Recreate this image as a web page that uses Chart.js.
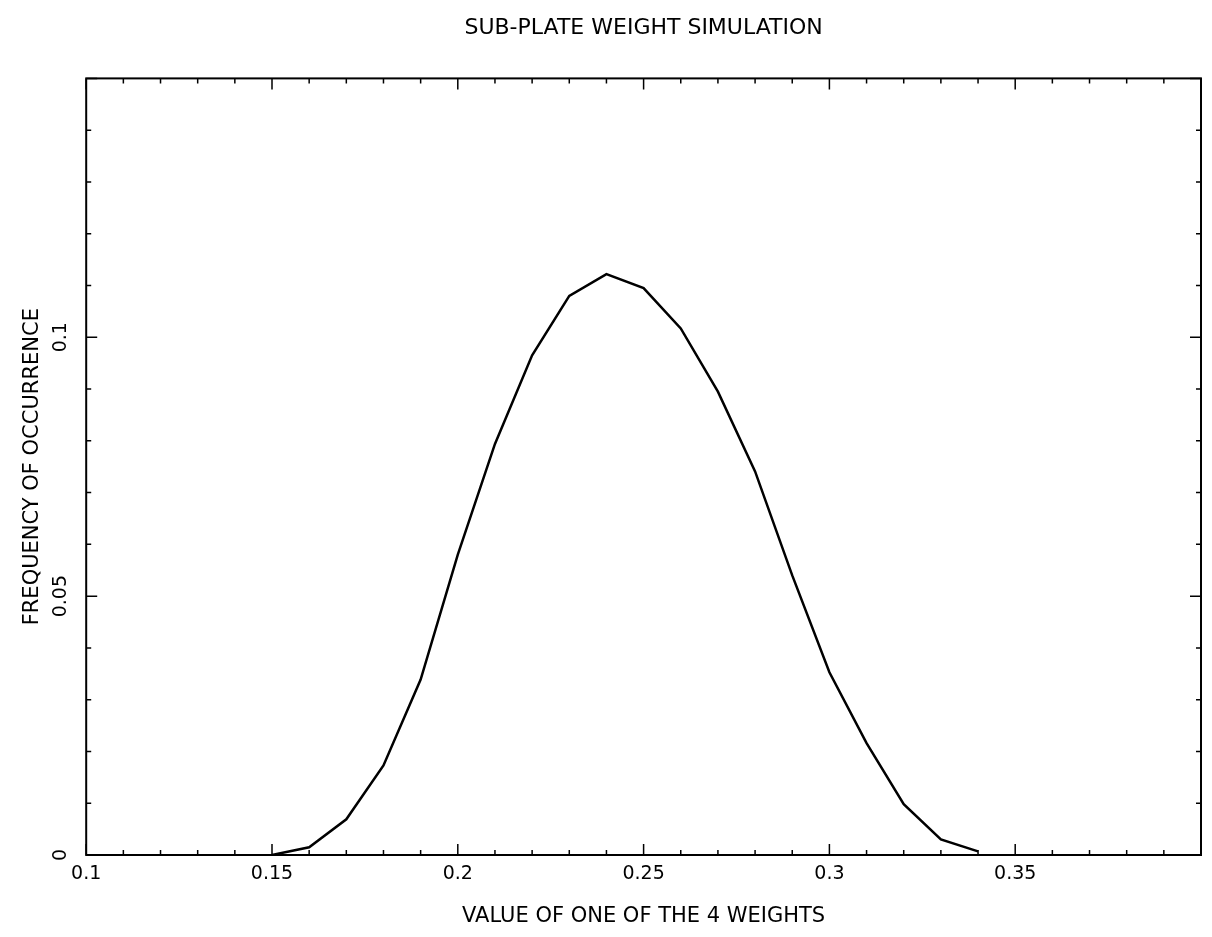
<!DOCTYPE html>
<html>
<head>
<meta charset="utf-8">
<title>Sub-plate weight simulation</title>
<script src="https://cdn.jsdelivr.net/npm/chart.js@4.4.1/dist/chart.umd.min.js"></script>
<style>
  body { margin: 0; background: #fff; }
  .main { width: 1212px; height: 937px; position: relative; }
</style>
</head>
<body>
<div class="main"><canvas id="myChart"></canvas></div>
<script>
// values
const weights = [0.15, 0.16, 0.17, 0.18, 0.19, 0.2, 0.21, 0.22, 0.23, 0.24,
  0.25, 0.26, 0.27, 0.28, 0.29, 0.3, 0.31, 0.32, 0.33, 0.34];
const frequency = [0, 0.0015, 0.0069, 0.0173, 0.0339, 0.058, 0.0794, 0.0965, 0.108, 0.1122,
  0.1095, 0.1017, 0.0895, 0.0741, 0.054, 0.0353, 0.0216, 0.0098, 0.003, 0.0007];
const xTickLabels = ['0.1', '0.15', '0.2', '0.25', '0.3', '0.35'];
const yTickLabels = ['0', '0.05', '0.1'];

const font = 'DejaVu Sans';

// ticks pointing into the box on all four sides, plus the rotated y labels
const framePlugin = {
  id: 'frame',
  afterDraw(chart) {
    const { ctx, chartArea: a, scales } = chart;
    const x = scales.x, y = scales.y;
    ctx.save();
    ctx.strokeStyle = '#000';
    ctx.lineWidth = 2;
    ctx.strokeRect(a.left, a.top, a.right - a.left, a.bottom - a.top);

    ctx.lineWidth = 1.5;
    ctx.beginPath();
    for (let i = 10; i <= 40; i++) {
      const px = x.getPixelForValue(i / 100);
      const len = i % 5 === 0 ? 11 : 5;
      ctx.moveTo(px, a.bottom); ctx.lineTo(px, a.bottom - len);
      ctx.moveTo(px, a.top); ctx.lineTo(px, a.top + len);
    }
    for (let i = 0; i <= 15; i++) {
      const py = y.getPixelForValue(i / 100);
      const len = i % 5 === 0 ? 11 : 5;
      ctx.moveTo(a.left, py); ctx.lineTo(a.left + len, py);
      ctx.moveTo(a.right, py); ctx.lineTo(a.right - len, py);
    }
    ctx.stroke();

    ctx.fillStyle = '#000';
    ctx.font = '19px "' + font + '"';
    ctx.textAlign = 'center';
    ctx.textBaseline = 'middle';
    yTickLabels.forEach((t) => {
      const py = y.getPixelForValue(parseFloat(t));
      ctx.save();
      ctx.translate(a.left - 25, py);
      ctx.rotate(-Math.PI / 2);
      ctx.fillText(t, 0, 0);
      ctx.restore();
    });
    ctx.restore();
  },
};

new Chart(document.getElementById('myChart'), {
  type: 'line',
  data: {
    datasets: [
      {
        label: 'Frequency',
        data: weights.map((w, i) => ({ x: w, y: frequency[i] })),
        borderColor: '#000',
        borderWidth: 2.5,
        pointRadius: 0,
        tension: 0,
        fill: false,
      },
    ],
  },
  options: {
    responsive: true,
    maintainAspectRatio: false,
    animation: false,
    layout: { padding: { right: 11 } },
    plugins: {
      legend: { display: false },
      tooltip: { enabled: false },
      title: {
        display: true,
        text: 'SUB-PLATE WEIGHT SIMULATION',
        color: '#000',
        fullSize: false,
        font: { family: font, size: 22, weight: 'normal' },
        padding: { top: 15, bottom: 37 },
      },
    },
    scales: {
      x: {
        type: 'linear',
        min: 0.1,
        max: 0.4,
        grid: { display: false, drawTicks: false },
        border: { display: false },
        ticks: {
          stepSize: 0.05,
          color: '#000',
          padding: 8,
          maxRotation: 0,
          font: { family: font, size: 19 },
          callback: (v) => {
            const t = String(Math.round(v * 100) / 100);
            return xTickLabels.includes(t) ? t : '';
          },
        },
        title: {
          display: true,
          text: 'VALUE OF ONE OF THE 4 WEIGHTS',
          color: '#000',
          font: { family: font, size: 21 },
          padding: { top: 10.5, bottom: 7.5 },
        },
      },
      y: {
        min: 0,
        max: 0.15,
        grid: { display: false, drawTicks: false },
        border: { display: false },
        ticks: { display: false },
        title: {
          display: true,
          text: 'FREQUENCY OF OCCURRENCE',
          color: '#000',
          font: { family: font, size: 21 },
          padding: { top: 19.5, bottom: 41.5 },
        },
      },
    },
  },
  plugins: [framePlugin],
});
</script>
</body>
</html>
